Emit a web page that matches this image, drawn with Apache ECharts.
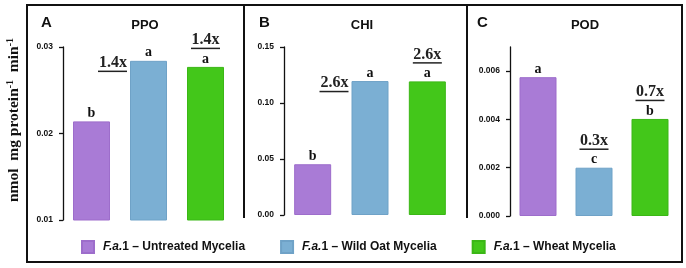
<!DOCTYPE html>
<html>
<head>
<meta charset="utf-8">
<script src="https://cdn.jsdelivr.net/npm/echarts@6/dist/echarts.min.js"></script>
<style>
html, body { margin: 0; padding: 0; background: #fff; }
#chart { width: 686px; height: 268px; }
</style>
</head>
<body>
<div id="chart"></div>
<script>
// legend / treatments
var treatments = ['F.a.1 – Untreated Mycelia', 'F.a.1 – Wild Oat Mycelia', 'F.a.1 – Wheat Mycelia'];

// enzyme activity (nmol mg protein-1 min-1)
var ppoValues = [0.0214, 0.0284, 0.0277];
var chiValues = [0.0453, 0.1196, 0.1193];
var podValues = [0.00575, 0.0020, 0.00402];

// significance letters
var ppoLetters = ['b', 'a', 'a'];
var chiLetters = ['b', 'a', 'a'];
var podLetters = ['a', 'c', 'b'];

// fold change vs untreated
var ppoFold = ['', '1.4x', '1.4x'];
var chiFold = ['', '2.6x', '2.6x'];
var podFold = ['', '0.3x', '0.7x'];

// y tick labels
var ppoTicks = [0.01, 0.02, 0.03];
var chiTicks = [0.00, 0.05, 0.10, 0.15];
var podTicks = [0.000, 0.002, 0.004, 0.006];

var colors = ['#A97BD6', '#7BAFD3', '#43C71A'];
var borders = ['#9D6DCB', '#6FA2C7', '#3BB716'];
var serif = 'Liberation Serif';
var sans = 'Liberation Sans';

var panels = [
    {title: 'PPO', tag: 'A', values: ppoValues, letters: ppoLetters, fold: ppoFold, ticks: ppoTicks,
     max: 0.03, digits: 2, side: [false, true, false], grid: {left: 63, right: 452, top: 47, bottom: 48}},
    {title: 'CHI', tag: 'B', values: chiValues, letters: chiLetters, fold: chiFold, ticks: chiTicks,
     max: 0.15, digits: 2, side: [false, true, false], grid: {left: 284, right: 230, top: 47, bottom: 53}},
    {title: 'POD', tag: 'C', values: podValues, letters: podLetters, fold: podFold, ticks: podTicks,
     max: 0.007, digits: 3, side: [false, false, false], grid: {left: 510, right: 8, top: 47, bottom: 52}}
];
var titleX = [140, 357, 580];
var tagX = [36, 254, 472];

var grids = [], xAxes = [], yAxes = [], series = [], titles = [];

panels.forEach(function (p, i) {
    grids.push(p.grid);
    xAxes.push({type: 'category', gridIndex: i, data: treatments, show: false});
    yAxes.push({
        type: 'value', gridIndex: i, min: p.ticks[0], max: p.max,
        splitLine: {show: false},
        axisLine: {show: true, lineStyle: {color: '#111', width: 1.3}},
        axisTick: {show: true, length: 4, customValues: p.ticks, lineStyle: {color: '#111', width: 1.3}},
        axisLabel: {
            customValues: p.ticks, margin: 10, color: '#111', fontFamily: sans, fontWeight: 'bold', fontSize: 8.5,
            formatter: function (v) { return v.toFixed(p.digits); }
        }
    });
    titles.push({text: p.title, left: titleX[i], top: 14, textAlign: 'center',
        textStyle: {fontFamily: sans, fontWeight: 'bold', fontSize: 13, color: '#111'}});
    titles.push({text: p.tag, left: tagX[i], top: 10,
        textStyle: {fontFamily: sans, fontWeight: 'bold', fontSize: 15, color: '#111'}});

    treatments.forEach(function (name, k) {
        series.push({
            name: name, type: 'bar', xAxisIndex: i, yAxisIndex: i,
            barWidth: 37, barGap: '-100%',
            data: p.values.map(function (v, j) { return j === k ? v : '-'; }),
            itemStyle: {color: colors[k], borderColor: borders[k], borderWidth: 1},
            label: {
                show: true, position: 'top', distance: 1,
                formatter: p.letters[k],
                fontFamily: serif, fontWeight: 'bold', fontSize: 14, color: '#111'
            }
        });
    });

    // fold change labels, on a transparent overlay
    series.push({
        name: 'fold' + i, type: 'bar', xAxisIndex: i, yAxisIndex: i,
        barWidth: 37, barGap: '-100%', silent: true,
        itemStyle: {color: 'rgba(0,0,0,0)'},
        data: p.values.map(function (v, j) {
            if (!p.fold[j]) return {value: v, label: {show: false}};
            if (p.side[j]) {
                return {value: v, label: {show: true, position: [-3, -5], align: 'right', verticalAlign: 'top'}};
            }
            return {value: v, label: {show: true, position: 'top', distance: 17}};
        }),
        label: {
            formatter: function (prm) { return '{f|' + p.fold[prm.dataIndex] + '}\n{u|}'; },
            rich: {
                f: {fontFamily: serif, fontWeight: 'bold', fontSize: 16, color: '#222', lineHeight: 14},
                u: {width: 29, height: 1.5, backgroundColor: '#222', lineHeight: 3}
            }
        }
    });
});

var chart = echarts.init(document.getElementById('chart'));
chart.setOption({
    animation: false,
    title: titles,
    grid: grids,
    xAxis: xAxes,
    yAxis: yAxes,
    series: series,
    legend: {
        data: treatments, left: 76, top: 235,
        itemWidth: 12, itemHeight: 12, itemGap: 35, icon: 'rect',
        formatter: function (name) { return '{i|F.a.}{n|' + name.split('F.a.')[1] + '}'; },
        textStyle: {
            rich: {
                i: {fontFamily: sans, fontWeight: 'bold', fontStyle: 'italic', fontSize: 12, color: '#111', padding: [0, 0, 0, 4]},
                n: {fontFamily: sans, fontWeight: 'bold', fontSize: 12, color: '#111'}
            }
        }
    },
    graphic: [
        {type: 'rect', shape: {x: 27, y: 5, width: 655, height: 257}, style: {fill: 'none', stroke: '#111', lineWidth: 2}},
        {type: 'line', shape: {x1: 244, y1: 5, x2: 244, y2: 218}, style: {stroke: '#111', lineWidth: 2}},
        {type: 'line', shape: {x1: 467, y1: 5, x2: 467, y2: 218}, style: {stroke: '#111', lineWidth: 2}},
        {
            type: 'text', x: 14, y: 120, rotation: Math.PI / 2,
            style: {
                text: '{m|nmol  mg protein}{s|-1}{m|  min}{s|-1}',
                align: 'center', verticalAlign: 'middle',
                rich: {
                    m: {fontFamily: serif, fontWeight: 'bold', fontSize: 15.5, fill: '#111', lineHeight: 17},
                    s: {fontFamily: serif, fontWeight: 'bold', fontSize: 10, fill: '#111', lineHeight: 17, verticalAlign: 'top'}
                }
            }
        }
    ]
});
</script>
</body>
</html>
